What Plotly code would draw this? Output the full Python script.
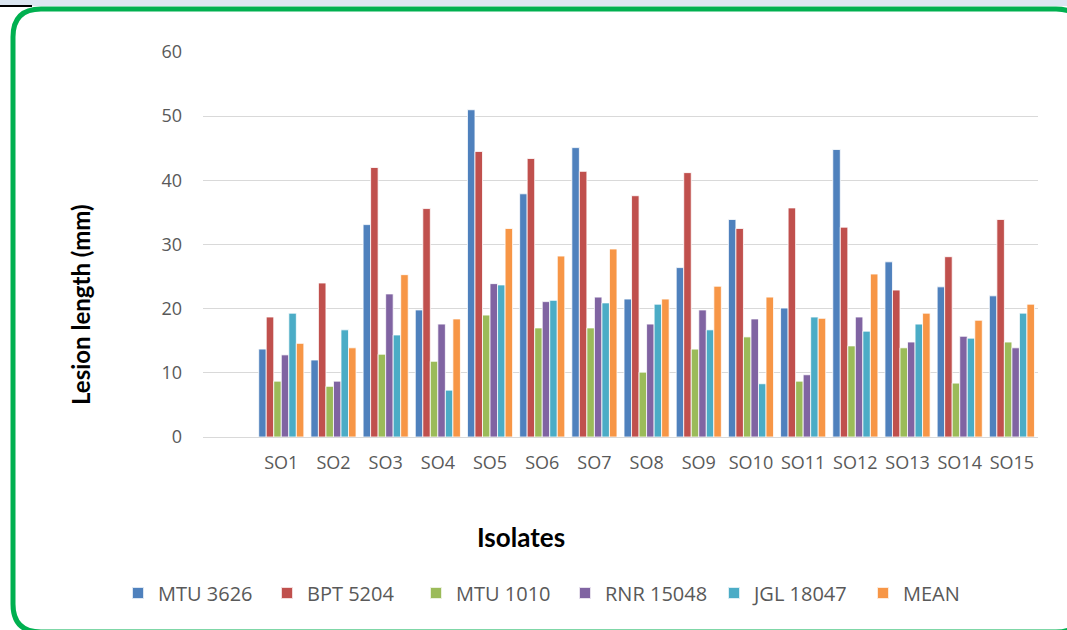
import plotly.graph_objects as go

isolates = ["SO1", "SO2", "SO3", "SO4", "SO5", "SO6", "SO7", "SO8", "SO9", "SO10",
            "SO11", "SO12", "SO13", "SO14", "SO15"]
mtu_3626 = [13.7, 12.0, 33.1, 19.8, 51.0, 37.9, 45.1, 21.5, 26.4, 33.9, 20.1, 44.8, 27.3, 23.4, 22.0]
bpt_5204 = [18.7, 24.0, 42.0, 35.6, 44.5, 43.4, 41.4, 37.6, 41.2, 32.5, 35.7, 32.7, 22.9, 28.1, 33.9]
mtu_1010 = [8.7, 7.9, 12.9, 11.8, 19.0, 17.0, 17.0, 10.1, 13.7, 15.6, 8.7, 14.2, 13.9, 8.4, 14.8]
rnr_15048 = [12.8, 8.7, 22.3, 17.6, 23.9, 21.1, 21.8, 17.6, 19.8, 18.4, 9.7, 18.7, 14.8, 15.7, 13.9]
jgl_18047 = [19.3, 16.7, 15.9, 7.3, 23.7, 21.3, 20.9, 20.7, 16.7, 8.3, 18.7, 16.5, 17.6, 15.4, 19.3]
mean = [14.6, 13.9, 25.3, 18.4, 32.5, 28.2, 29.3, 21.5, 23.5, 21.8, 18.5, 25.4, 19.3, 18.2, 20.7]

series_names = ["MTU 3626", "BPT 5204", "MTU 1010", "RNR 15048", "JGL 18047", "MEAN"]
series_values = [mtu_3626, bpt_5204, mtu_1010, rnr_15048, jgl_18047, mean]
colors = ["#4F81BD", "#C0504D", "#9BBB59", "#8064A2", "#4BACC6", "#F79646"]
y_ticks = [0, 10, 20, 30, 40, 50, 60]

W, H = 1067, 630
ML, MR, MT, MB = 203, 29, 52, 193
PW, PH = W - ML - MR, H - MT - MB


def px(x):
    return (x - ML) / PW


def py(y):
    return (H - MB - y) / PH


fig = go.Figure()
for name, vals, col in zip(series_names, series_values, colors):
    fig.add_trace(go.Bar(
        x=isolates, y=vals, name=name,
        marker=dict(color=col, line=dict(color="rgba(255,255,255,0.8)", width=1)),
    ))

font_tick = "Open Sans, Noto Sans, sans-serif"
gray = "#595959"

# rounded green frame path (pixel coords -> paper)
x0, x1, y0, y1, r = 13, 1084, 9, 632, 28
path = (f"M {px(x0 + r)},{py(y0)} L {px(x1 - r)},{py(y0)} "
        f"Q {px(x1)},{py(y0)} {px(x1)},{py(y0 + r)} "
        f"L {px(x1)},{py(y1 - r)} Q {px(x1)},{py(y1)} {px(x1 - r)},{py(y1)} "
        f"L {px(x0 + r)},{py(y1)} Q {px(x0)},{py(y1)} {px(x0)},{py(y1 - r)} "
        f"L {px(x0)},{py(y0 + r)} Q {px(x0)},{py(y0)} {px(x0 + r)},{py(y0)} Z")

shapes = [
    dict(type="rect", xref="paper", yref="paper", x0=px(0), x1=px(W), y0=py(0), y1=py(6),
         fillcolor="#DCE6F1", line=dict(width=0), layer="above"),
    dict(type="line", xref="paper", yref="paper", x0=px(0), x1=px(32), y0=py(6), y1=py(6),
         line=dict(color="black", width=2)),
    dict(type="path", xref="paper", yref="paper", path=path,
         line=dict(color="#00B050", width=5)),
]

fig.update_layout(
    width=W, height=H,
    margin=dict(l=ML, r=MR, t=MT, b=MB, pad=0),
    paper_bgcolor="white", plot_bgcolor="white",
    barmode="group", bargap=0.135, bargroupgap=0.0,
    shapes=shapes,
    showlegend=True,
    legend=dict(orientation="h", x=px(118), xanchor="left", y=py(593), yanchor="middle",
                font=dict(family=font_tick, size=20, color=gray),
                entrywidth=104, entrywidthmode="pixels", itemsizing="constant",
                traceorder="normal", bgcolor="rgba(0,0,0,0)"),
    xaxis=dict(range=[-1.5, 14.5], showgrid=False, showline=True, linecolor="#D9D9D9",
               linewidth=1, ticks="", tickfont=dict(family=font_tick, size=18, color=gray),
               ticklabelstandoff=9, fixedrange=True),
    yaxis=dict(range=[0, 60], tickvals=y_ticks, showgrid=True, gridcolor="#D9D9D9",
               gridwidth=1, zeroline=False, showline=False, ticks="",
               tickfont=dict(family=font_tick, size=18, color=gray),
               ticklabelstandoff=20, fixedrange=True),
    annotations=[
        dict(text="<b>Isolates</b>", xref="paper", yref="paper", x=px(521), y=py(537),
             xanchor="center", yanchor="middle", showarrow=False,
             font=dict(family="Lato, Open Sans, sans-serif", size=26, color="black")),
        dict(text="<b>Lesion length (mm)</b>", xref="paper", yref="paper", x=px(80), y=py(305),
             xanchor="center", yanchor="middle", showarrow=False, textangle=-90,
             font=dict(family="Lato, Open Sans, sans-serif", size=24, color="black")),
    ],
)

fig.write_html("out.html", config={"displayModeBar": False, "staticPlot": True},
               post_script="document.body.style.margin='0';document.body.style.overflow='hidden';")
